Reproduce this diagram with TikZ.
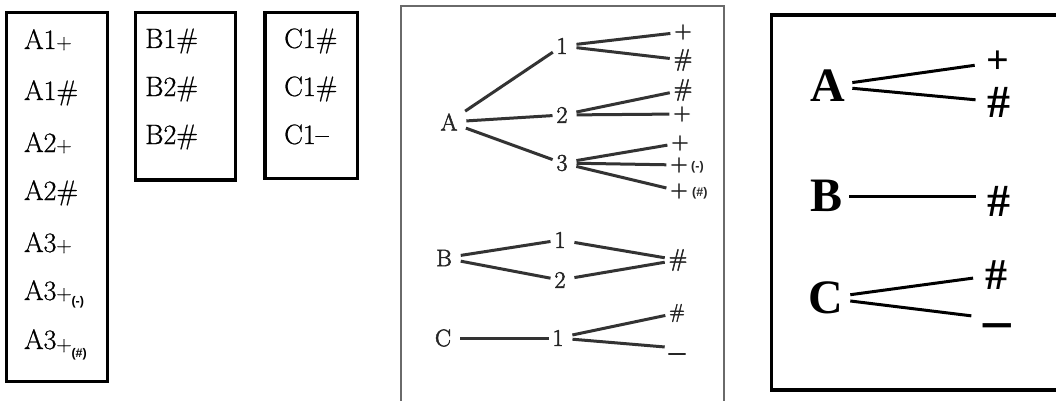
\documentclass[tikz,border=0pt]{standalone}
\usepackage{fontspec}
\usepackage{graphicx}
\newfontfamily\tnr{Liberation Serif}
\newfontfamily\arl{Liberation Sans}
\newfontfamily\lmbold[FakeBold=2.2]{Latin Modern Roman}
\newfontfamily\lmmed[FakeBold=0.8]{Latin Modern Roman}
\definecolor{treetext}{HTML}{262626}
\definecolor{treeline}{HTML}{333333}
\definecolor{framegray}{HTML}{6A6A6A}
\newcommand{\smp}{{\fontsize{21}{21}\selectfont +}}
\newcommand{\tinyb}[1]{{\arl\bfseries\fontsize{12.5}{12.5}\selectfont #1}}
\begin{document}
\begin{tikzpicture}[x=1pt,y=-1pt,
  box/.style={draw=black, line width=3.3pt},
  bt/.style={anchor=base west, inner sep=0pt, font=\lmmed\fontsize{28}{28}\selectfont},
  tn/.style={inner sep=0pt, outer sep=2pt, text=treetext, font=\lmbold\fontsize{24}{24}\selectfont},
  tl/.style={draw=treeline, line width=3pt, shorten <=7pt, shorten >=2pt},
  rn/.style={inner sep=0pt, outer sep=2pt, font=\tnr\bfseries\fontsize{48}{48}\selectfont},
  rl/.style={draw=black, line width=3pt, shorten <=5pt, shorten >=10pt}]
\useasboundingbox (0,0) rectangle (1056,401);
\fill[white] (0,0) rectangle (1056,401);
\begin{scope}
\clip (0,0) rectangle (1056,401);
% ---- box 1 ----
\draw[box] (6.5,12.5) rectangle (107.5,381.5);
\node[bt] (a1p) at (24,49) {A1\smp};
\node[bt] (a1h) at (24,100) {A1\#};
\node[bt] (a2p) at (24,152) {A2\smp};
\node[bt] (a2h) at (24,200) {A2\#};
\node[bt] (a3p) at (24,252) {A3\smp};
\node[bt] (a3m) at (24,300) {A3\smp\raisebox{-5pt}{\tinyb{(-)}}};
\node[bt] (a3h) at (24,349) {A3\raisebox{-2pt}{\smp}\raisebox{-8pt}{\tinyb{(\#)}}};
% ---- box 2 ----
\draw[box] (135.5,12.5) rectangle (235.5,180);
\node[bt] (b1) at (145,48) {B1\#};
\node[bt] (b2) at (145,96) {B2\#};
\node[bt] (b3) at (145,144) {B2\#};
% ---- box 3 ----
\draw[box] (265,12.5) rectangle (357.5,178.5);
\node[bt] (c1) at (284,48) {C1\#};
\node[bt] (c2) at (284,96) {C1\#};
\node[bt] (c3) at (284,144) {C1–};
% ---- middle tree ----
\draw[framegray, line width=2.2pt] (401,6) rectangle (724,420);
\node[tn] (A) at (449,122) {A};
\node[tn] (A1) at (562,46) {1};
\node[tn] (A2) at (562,115) {2};
\node[tn] (A3) at (562,163) {3};
\node[tn] (A1p) at (683,32) {+};
\node[tn] (A1h) at (683,60) {\#};
\node[tn] (A2h) at (683,90) {\#};
\node[tn] (A2p) at (682,114) {+};
\node[tn] (A3p) at (680,143) {+};
\node[tn] (A3m) at (679,165) {+};
\node[inner sep=0pt, text=treetext, anchor=west] (A3ml) at (691,167) {\tinyb{(-)}};
\node[tn] (A3h) at (679,191) {+};
\node[inner sep=0pt, text=treetext, anchor=west] (A3hl) at (692,193) {\tinyb{(\#)}};
\draw[tl] (A) -- (A1);
\draw[tl] (A) -- (A2);
\draw[tl] (A) -- (A3);
\draw[tl] (A1) -- (A1p);
\draw[tl] (A1) -- (A1h);
\draw[tl] (A2) -- (A2h);
\draw[tl] (A2) -- (A2p);
\draw[tl] (A3) -- (A3p);
\draw[tl] (A3) -- (A3m);
\draw[tl] (A3) -- (A3h);
\node[tn] (B) at (444,258) {B};
\node[tn] (B1) at (560,240) {1};
\node[tn] (B2) at (560,280) {2};
\node[tn] (Bh) at (678,260) {\#};
\draw[tl] (B) -- (B1);
\draw[tl] (B) -- (B2);
\draw[tl] (B1) -- (Bh);
\draw[tl] (B2) -- (Bh);
\node[tn] (C) at (443,338) {C};
\node[tn] (C1) at (558,338) {1};
\node[tn, font=\lmbold\fontsize{20}{20}\selectfont] (Ch) at (677,313) {\#};
\node[tn, text height=0pt, text depth=0pt] (Cm) at (677,348) {\scalebox{1}[2]{\_}};
\draw[tl] (C) -- (C1);
\draw[tl] (C1) -- (Ch);
\draw[tl] (C1) -- (Cm);
% ---- right box ----
\draw[black, line width=3.8pt] (771.5,15) rectangle (1070,390);
\node[rn] (RA) at (828,86) {A};
\node[rn] (RB) at (826,196) {B};
\node[rn] (RC) at (826,298) {C};
\node[rn, font=\tnr\bfseries\fontsize{40}{40}\selectfont] (RAp) at (998,62) {+};
\node[rn, font=\tnr\bfseries\fontsize{46}{46}\selectfont] (RAh) at (999,102) {\#};
\node[rn, font=\tnr\bfseries\fontsize{46}{46}\selectfont] (RBh) at (999,201) {\#};
\node[rn, font=\tnr\bfseries\fontsize{44}{44}\selectfont] (RCh) at (996,275) {\#};
\node[rn, font=\tnr\bfseries\fontsize{50}{50}\selectfont, text height=0pt, text depth=0pt] (RCm) at (997,319) {\scalebox{1.1}[1.2]{\_}};
\draw[rl] (RA) -- (RAp);
\draw[rl] (RA) -- (RAh);
\draw[rl] (RB.east) -- (RB.east -| RBh.west);
\draw[rl] (RC) -- (RCh);
\draw[rl] (RC) -- (RCm);
\end{scope}
\end{tikzpicture}
\end{document}
